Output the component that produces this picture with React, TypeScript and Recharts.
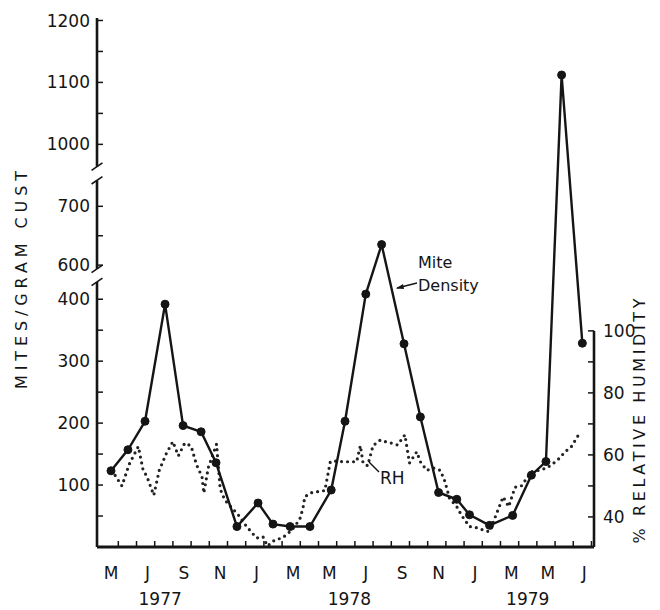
import { LineChart, Line, XAxis, YAxis, ReferenceLine } from "recharts";

const FONT = "'DejaVu Sans', 'Liberation Sans', sans-serif";
const INK = "#151515";

// months counted from May 1977 (= 0)
const miteMonths = [0, 0.93, 1.87, 2.97, 3.96, 4.95, 5.77, 6.92, 8.08, 8.9, 9.84, 10.93, 12.1, 12.86, 14.0, 14.87, 16.1, 17.0, 18.0, 19.0, 19.7, 20.8, 22.07, 23.1, 23.9, 24.76, 25.9];
const miteValues = [123, 157, 203, 392, 196, 186, 136, 33, 71, 37, 33, 33, 92, 203, 430, 635, 328, 210, 88, 77, 52, 35, 51, 116, 138, 1112, 329];

const rhMonths = [0.05, 0.6, 1.0, 1.5, 1.75, 2.0, 2.35, 2.65, 3.05, 3.4, 3.7, 4.05, 4.4, 4.7, 5.0, 5.1, 5.35, 5.8, 6.0, 6.25, 6.55, 7.0, 7.45, 8.0, 8.35, 8.6, 9.0, 9.4, 9.7, 10.1, 10.4, 10.55, 10.65, 11.0, 11.4, 11.75, 12.05, 12.3, 12.75, 13.1, 13.5, 13.7, 13.85, 14.1, 14.4, 14.8, 15.05, 15.4, 15.75, 16.15, 16.4, 16.8, 17.0, 17.35, 17.7, 18.1, 18.35, 18.6, 19.05, 19.25, 19.7, 20.1, 20.45, 20.8, 21.2, 21.55, 21.85, 22.2, 22.55, 23.1, 23.5, 23.95, 24.2, 24.55, 24.95, 25.3, 25.75];
const rhValues = [55, 50, 57, 62.7, 55.5, 52.6, 47, 55, 60.6, 64.3, 59.7, 63.8, 62.9, 56.8, 53, 47.7, 56, 63.5, 49, 45.5, 43.5, 40.6, 36.9, 33.2, 33.6, 30.6, 32.6, 33.2, 34.5, 36.9, 39.7, 42.9, 46.5, 47.8, 48.2, 48.5, 57.8, 58, 57.8, 57.8, 57.8, 63, 57.4, 56.5, 63, 64.8, 64.3, 63.8, 63.2, 66.5, 57.4, 61, 57.8, 55, 55.8, 55, 51.4, 46, 42.9, 40.6, 36.9, 36.5, 35.8, 35.2, 41.3, 46.5, 43.3, 49.6, 50, 54.6, 55, 55.8, 56.8, 58.4, 61, 62.7, 67];

const monthLabels = ["M", "J", "S", "N", "J", "M", "M", "J", "S", "N", "J", "M", "M", "J"];
const yearLabels = ["1977", "1978", "1979"];
const yearTicks = [2.7, 13.1, 22.9];

const miteTicks = [50, 100, 150, 200, 250, 300, 350, 400, 600, 650, 700, 1000, 1050, 1100, 1150, 1200];
const rhTicks = [40, 50, 60, 70, 80, 90, 100];

// broken mite axis: real values -> plotted units
const realBreaks = [0, 400, 600, 700, 1000, 1200];
const shownBreaks = [0, 400, 455, 550, 650, 850];

function toShown(v: number) {
  for (let i = 1; i < realBreaks.length; i++) {
    if (v <= realBreaks[i] || i === realBreaks.length - 1) {
      const t = (v - realBreaks[i - 1]) / (realBreaks[i] - realBreaks[i - 1]);
      return shownBreaks[i - 1] + t * (shownBreaks[i] - shownBreaks[i - 1]);
    }
  }
  return v;
}

const miteData = miteMonths.map((m, i) => ({ month: m, mites: toShown(miteValues[i]) }));
const rhData = rhMonths.map((m, i) => ({ month: m, rh: rhValues[i] }));
const tickLabel = new Map(miteTicks.map((v) => [toShown(v), v]));

const X_MIN = -0.77;
const X_MAX = 26.54;
const monthTicks = Array.from({ length: 27 }, (_, i) => i);
const bottomTicks = [...monthTicks, ...yearTicks].sort((a, b) => a - b);

// month letters with inward tick marks; year labels sit one row lower
function MonthTick(props: any) {
  const { x, y, payload } = props;
  const m = payload.value as number;
  const yi = yearTicks.indexOf(m);
  if (yi >= 0) {
    return (
      <text x={x} y={y + 26} dy="0.71em" textAnchor="middle" fill={INK} fontSize={17} fontFamily={FONT}>
        {yearLabels[yi]}
      </text>
    );
  }
  const axisY = y - 20;
  const label = m % 2 === 0 ? monthLabels[m / 2] : "";
  return (
    <g>
      <line x1={x + 7.3} x2={x + 7.3} y1={axisY} y2={axisY - 6} stroke={INK} strokeWidth={1.5} />
      <text x={x} y={y} dy="0.71em" textAnchor="middle" fill={INK} fontSize={17} fontFamily={FONT}>
        {label}
      </text>
    </g>
  );
}

const axisSegs: [number, number][] = [[0, 428], [449, 592], [614, 854]];
const breakMarks = [428, 449, 592, 614];

export default function App() {
  return (
    <div style={{ position: "absolute", left: 0, top: 0, background: "#fff" }}>
      <LineChart width={660} height={610} margin={{ top: 18, right: 0, bottom: 0, left: 0 }}>
        <XAxis
          xAxisId="m"
          dataKey="month"
          type="number"
          domain={[X_MIN, X_MAX]}
          allowDataOverflow
          ticks={bottomTicks}
          interval={0}
          height={63}
          axisLine={{ stroke: INK, strokeWidth: 3 }}
          tickLine={false}
          tickSize={0}
          tickMargin={20}
          tick={<MonthTick />}
        />
        <YAxis
          yAxisId="mites"
          type="number"
          domain={[0, 854]}
          allowDataOverflow
          ticks={miteTicks.map(toShown)}
          interval={0}
          width={97}
          axisLine={false}
          tickLine={{ stroke: INK, strokeWidth: 1.5 }}
          tickSize={-6}
          tickMargin={13}
          tickFormatter={(v: number) => {
            const r = tickLabel.get(v);
            return r !== undefined && r % 100 === 0 ? String(r) : "";
          }}
          tick={{ fill: INK, fontSize: 17, fontFamily: FONT }}
        />
        <YAxis
          yAxisId="rh"
          orientation="right"
          type="number"
          domain={[30.3, 200.9]}
          allowDataOverflow
          ticks={rhTicks}
          interval={0}
          width={66}
          axisLine={false}
          tickLine={{ stroke: INK, strokeWidth: 1.5 }}
          tickSize={-6}
          tickMargin={15}
          tickFormatter={(v: number) => (v % 20 === 0 ? String(v) : "")}
          tick={{ fill: INK, fontSize: 17, fontFamily: FONT, textAnchor: "start" }}
        />

        {axisSegs.map(([a, b], i) => (
          <ReferenceLine
            key={"ax" + i}
            xAxisId="m"
            yAxisId="mites"
            ifOverflow="visible"
            segment={[{ x: X_MIN, y: a }, { x: X_MIN, y: b }]}
            stroke={INK}
            strokeWidth={2.6}
          />
        ))}
        {breakMarks.map((c, i) => (
          <ReferenceLine
            key={"br" + i}
            xAxisId="m"
            yAxisId="mites"
            ifOverflow="visible"
            segment={[{ x: X_MIN - 0.3, y: c - 6 }, { x: X_MIN + 0.3, y: c + 6 }]}
            stroke={INK}
            strokeWidth={1.6}
          />
        ))}
        <ReferenceLine
          xAxisId="m"
          yAxisId="rh"
          ifOverflow="visible"
          segment={[{ x: X_MAX, y: 30.3 }, { x: X_MAX, y: 100 }]}
          stroke={INK}
          strokeWidth={2.6}
        />

        <Line
          xAxisId="m"
          yAxisId="rh"
          data={rhData}
          dataKey="rh"
          type="linear"
          stroke="#222"
          strokeWidth={3.2}
          strokeDasharray="0 6"
          strokeLinecap="round"
          dot={false}
          activeDot={false}
          isAnimationActive={false}
        />
        <Line
          xAxisId="m"
          yAxisId="mites"
          data={miteData}
          dataKey="mites"
          type="linear"
          stroke={INK}
          strokeWidth={2.4}
          dot={{ r: 4, fill: INK, stroke: INK, strokeWidth: 1 }}
          activeDot={false}
          isAnimationActive={false}
        />

        <text transform="rotate(-90 22 280)" x={22} y={280} textAnchor="middle" dominantBaseline="middle" fill={INK} fontSize={16} fontFamily={FONT} textLength={218} lengthAdjust="spacing">
          MITES/GRAM CUST
        </text>
        <text transform="rotate(-90 640 421)" x={640} y={421} textAnchor="middle" dominantBaseline="middle" fill={INK} fontSize={16} fontFamily={FONT} textLength={245} lengthAdjust="spacing">
          % RELATIVE HUMIDITY
        </text>

        <text x={418} y={268} fill={INK} fontSize={16} fontFamily={FONT}>Mite</text>
        <text x={418} y={291} fill={INK} fontSize={16} fontFamily={FONT}>Density</text>
        <path d="M397 288 L417 283" stroke={INK} strokeWidth={1.4} fill="none" />
        <path d="M396 288.5 L403 284 L404 289 Z" fill={INK} />

        <path d="M369 462 L379 472" stroke={INK} strokeWidth={1.4} fill="none" />
        <text x={380} y={484} fill={INK} fontSize={17} fontFamily={FONT}>RH</text>
      </LineChart>
    </div>
  );
}
